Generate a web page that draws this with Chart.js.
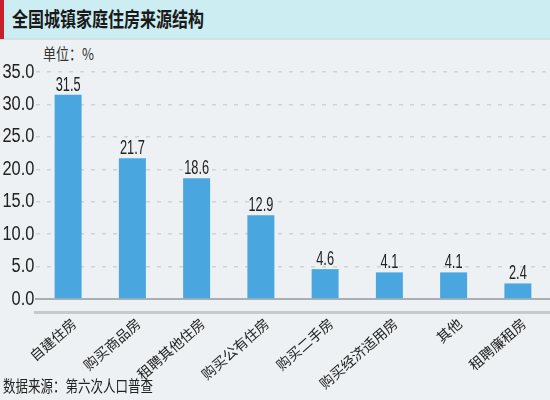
<!DOCTYPE html>
<html>
<head>
<meta charset="utf-8">
<script src="https://cdn.jsdelivr.net/npm/chart.js@4/dist/chart.umd.min.js"></script>
<style>
html,body{margin:0;padding:0;}
body{width:550px;height:400px;background:#eef1f3;position:relative;overflow:hidden;font-family:"Noto Sans CJK SC",sans-serif;}
#band{position:absolute;left:0;top:0;width:550px;height:38px;background:#ccedf1;border-bottom:2px solid #d6dfe3;}
#redbar{position:absolute;left:0;top:0;width:4px;height:39px;background:#c8202a;}
#title{position:absolute;left:12px;top:5px;font-size:16px;font-weight:bold;color:#1a1a1a;transform:scaleY(1.3);transform-origin:left top;white-space:nowrap;line-height:20px;}
#unit{position:absolute;left:43px;top:44px;font-size:13px;color:#333;transform:scaleY(1.25);transform-origin:left top;white-space:nowrap;line-height:16px;}
#src{position:absolute;left:3px;top:375px;font-size:12.5px;color:#222;transform:scaleY(1.3);transform-origin:left top;white-space:nowrap;line-height:16px;}
#thick{position:absolute;left:34px;top:311px;width:516px;height:3px;background:#c5cacd;}
#c{position:absolute;left:0;top:0;}
</style>
</head>
<body>
<div id="band"></div>
<div id="redbar"></div>
<div id="title">全国城镇家庭住房来源结构</div>
<div id="unit">单位：%</div>
<div id="thick"></div>
<canvas id="c" width="550" height="400"></canvas>
<div id="src">数据来源：第六次人口普查</div>
<script>
const categories = ["自建住房","购买商品房","租聘其他住房","购买公有住房","购买二手房","购买经济适用房","其他","租聘廉租房"];
const values = [31.5, 21.7, 18.6, 12.9, 4.6, 4.1, 4.1, 2.4];
const yTicks = [0, 5, 10, 15, 20, 25, 30, 35];

const NUMFONT = '"Liberation Sans",Arial,sans-serif';
const SQUEEZE = 0.82;
const VALUE_SQUEEZE = 0.64;

const valueLabels = {
  id: 'valueLabels',
  afterDatasetsDraw(chart) {
    const ctx = chart.ctx;
    const meta = chart.getDatasetMeta(0);
    meta.data.forEach((bar, i) => {
      ctx.save();
      ctx.font = '20px ' + NUMFONT;
      ctx.fillStyle = '#222';
      ctx.textAlign = 'center';
      ctx.textBaseline = 'alphabetic';
      ctx.translate(bar.x, 0);
      ctx.scale(VALUE_SQUEEZE, 1);
      ctx.fillText(values[i].toFixed(1), 0, bar.y - 4);
      ctx.restore();
    });
  }
};

new Chart(document.getElementById('c'), {
  type: 'bar',
  data: {
    labels: categories,
    datasets: [{
      data: values,
      backgroundColor: '#4aa6de',
      barPercentage: 0.42,
      categoryPercentage: 1.0
    }]
  },
  options: {
    responsive: false,
    animation: false,
    layout: { padding: { top: 72, right: 0, left: 0, bottom: 0 } },
    plugins: { legend: { display: false }, tooltip: { enabled: false } },
    scales: {
      x: {
        grid: { display: false },
        border: { display: true, color: '#a9b0b5', width: 2 },
        ticks: {
          autoSkip: false,
          maxRotation: 41,
          minRotation: 41,
          padding: 8,
          labelOffset: 6,
          color: '#222',
          font: { size: 14, family: '"Noto Sans CJK SC",sans-serif' }
        },
        afterFit(scale) { scale.height = 101; }
      },
      y: {
        min: 0,
        max: 35,
        afterBuildTicks(scale) { scale.ticks = yTicks.map(v => ({ value: v })); },
        grid: {
          drawTicks: false,
          color: (ctx) => ctx.tick && ctx.tick.value === 0 ? 'rgba(0,0,0,0)' : '#cdd3d8',
          lineWidth: 1.5
        },
        border: { display: false, dash: [4, 7] },
        ticks: {
          padding: 2,
          color: '#222',
          font: { size: 20, family: NUMFONT },
          callback: (v) => Number(v).toFixed(1)
        },
        afterFit(scale) {
          scale.width = 36;
          if (!scale._squeezed) {
            const orig = scale.drawLabels;
            scale.drawLabels = function (ca) {
              const ctx = this.ctx;
              const ax = this.right - this.options.ticks.padding;
              const savedLeft = this.left;
              const savedRight = this.right;
              ctx.save();
              ctx.translate(ax, 0);
              ctx.scale(SQUEEZE, 1);
              ctx.translate(-ax, 0);
              // widen clip box so the squeezed labels are not cut off
              this.left = ax - (ax - savedLeft) / SQUEEZE;
              this.right = ax + (savedRight - ax) / SQUEEZE;
              try { orig.call(this, ca); } finally {
                this.left = savedLeft;
                this.right = savedRight;
                ctx.restore();
              }
            };
            scale._squeezed = true;
          }
        }
      }
    }
  },
  plugins: [valueLabels]
});
</script>
</body>
</html>
